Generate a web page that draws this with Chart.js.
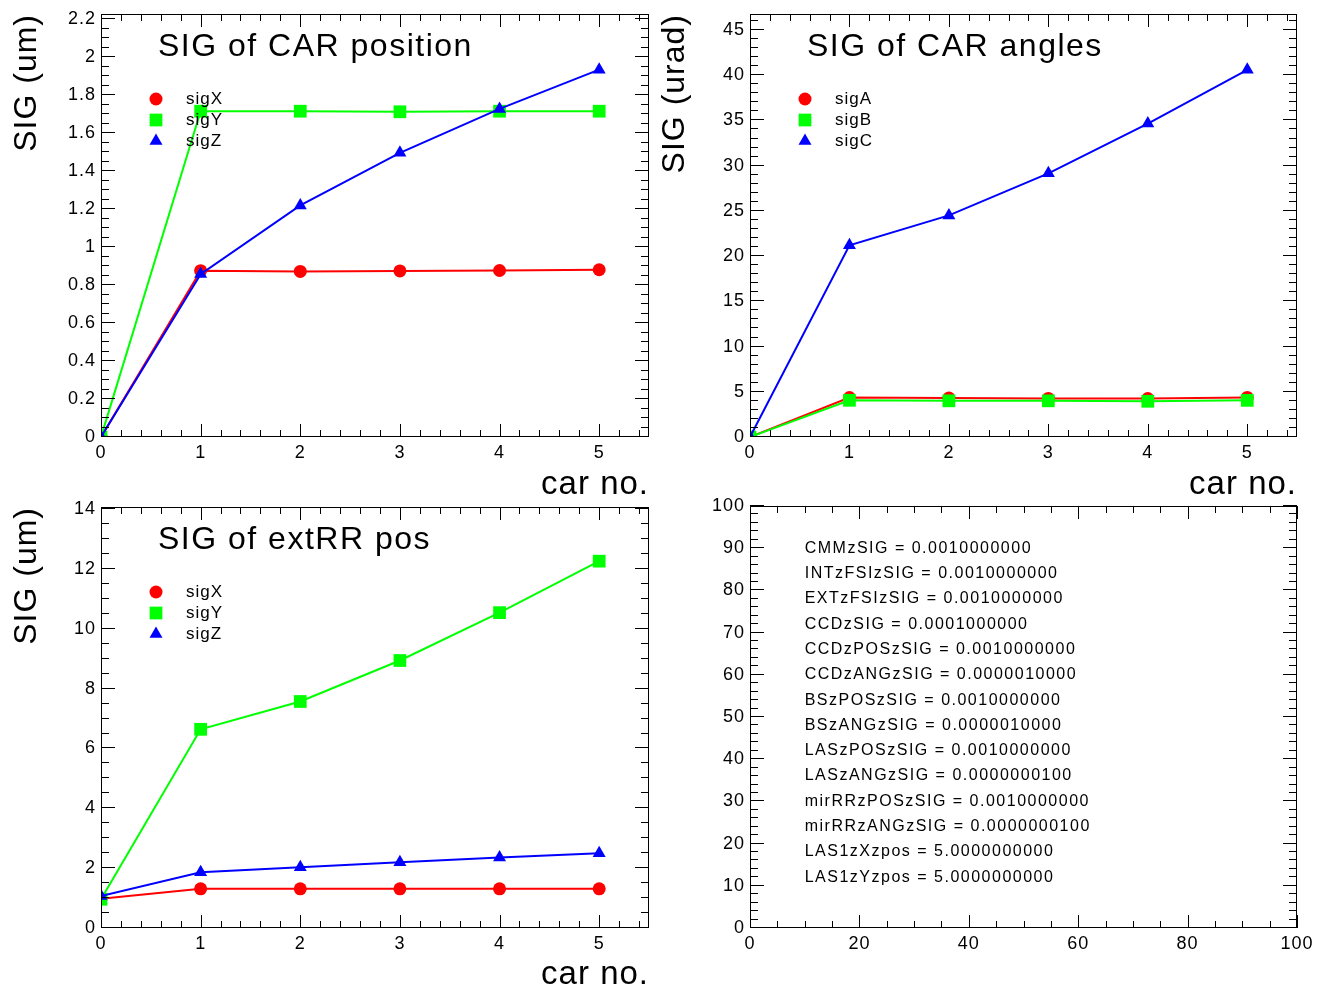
<!DOCTYPE html>
<html>
<head>
<meta charset="utf-8">
<script src="https://cdn.jsdelivr.net/npm/chart.js@4.4.1/dist/chart.umd.min.js"></script>
<style>
  body { margin: 0; background: #fff; }
  #page { position: relative; width: 1323px; height: 990px; background: #fff; }
  canvas { position: absolute; }
</style>
</head>
<body>
<div id="page">
  <canvas id="padPos" width="661" height="495" style="left:0px;top:0px"></canvas>
  <canvas id="padAng" width="662" height="495" style="left:661px;top:0px"></canvas>
  <canvas id="padExt" width="661" height="495" style="left:0px;top:495px"></canvas>
  <canvas id="padPar" width="662" height="495" style="left:661px;top:495px"></canvas>
</div>
<script>
// x values shared by the three graphs
const carNo = [0, 1, 2, 3, 4, 5];

// SIG of CAR position (um)
const posSigX = [0, 0.876, 0.872, 0.875, 0.877, 0.881];
const posSigY = [0, 1.716, 1.716, 1.713, 1.716, 1.716];
const posSigZ = [0, 0.858, 1.22, 1.497, 1.728, 1.935];

// SIG of CAR angles (urad)
const angSigA = [0, 4.36, 4.3, 4.27, 4.25, 4.38];
const angSigB = [0, 4.06, 4.0, 4.0, 3.95, 4.05];
const angSigC = [0, 21.2, 24.5, 29.15, 34.65, 40.6];

// SIG of extRR pos (um)
const extSigX = [0.98, 1.31, 1.31, 1.31, 1.31, 1.31];
const extSigY = [0.96, 6.64, 7.57, 8.94, 10.54, 12.26];
const extSigZ = [1.07, 1.86, 2.03, 2.2, 2.36, 2.5];

// parameter list shown in the last pad
const parNames = ['CMMzSIG', 'INTzFSIzSIG', 'EXTzFSIzSIG', 'CCDzSIG', 'CCDzPOSzSIG', 'CCDzANGzSIG',
  'BSzPOSzSIG', 'BSzANGzSIG', 'LASzPOSzSIG', 'LASzANGzSIG', 'mirRRzPOSzSIG', 'mirRRzANGzSIG',
  'LAS1zXzpos', 'LAS1zYzpos'];
const parValues = ['0.0010000000', '0.0010000000', '0.0010000000', '0.0001000000', '0.0010000000',
  '0.0000010000', '0.0010000000', '0.0000010000', '0.0010000000', '0.0000000100', '0.0010000000',
  '0.0000000100', '5.0000000000', '5.0000000000'];

const FONT = '"Liberation Sans", Arial, sans-serif';

function eachTick(scale, minor, every, fn) {
  const n = Math.floor((scale.max - scale.min) / minor + 1e-6);
  for (let i = 0; i <= n; i++) {
    fn(scale.getPixelForValue(scale.min + i * minor), i % every === 0);
  }
}

// ROOT style frame with ticks pointing inside on all four sides
const rootFrame = {
  id: 'rootFrame',
  beforeDraw(chart) {
    chart.ctx.letterSpacing = '1px';
  },
  afterDraw(chart, args, opts) {
    const { ctx, chartArea: a, scales: { x, y } } = chart;
    ctx.save();
    ctx.strokeStyle = '#000';
    ctx.lineWidth = 1;
    ctx.beginPath();
    eachTick(x, opts.xMinor, opts.xEvery, (px, major) => {
      const len = major ? 13 : 7;
      const xx = Math.round(px) + 0.5;
      ctx.moveTo(xx, a.bottom); ctx.lineTo(xx, a.bottom - len);
      ctx.moveTo(xx, a.top); ctx.lineTo(xx, a.top + len);
    });
    eachTick(y, opts.yMinor, opts.yEvery, (py, major) => {
      const len = major ? 14 : 8;
      const yy = Math.round(py) - 0.5;
      ctx.moveTo(a.left, yy); ctx.lineTo(a.left + len, yy);
      ctx.moveTo(a.right, yy); ctx.lineTo(a.right - len, yy);
    });
    ctx.stroke();
    ctx.strokeRect(Math.round(a.left) + 0.5, Math.round(a.top) + 0.5,
      Math.round(a.right - a.left) - 1, Math.round(a.bottom - a.top) - 1);
    ctx.restore();
  }
};

function drawMarker(ctx, style, r, cx, cy, color) {
  ctx.fillStyle = color;
  ctx.beginPath();
  if (style === 'circle') {
    ctx.arc(cx, cy, r, 0, Math.PI * 2);
  } else if (style === 'rect') {
    const s = r * Math.SQRT1_2;
    ctx.rect(cx - s, cy - s, 2 * s, 2 * s);
  } else {
    for (let k = 0; k < 3; k++) {
      const ang = k * Math.PI * 2 / 3;
      ctx.lineTo(cx + Math.sin(ang) * r, cy - Math.cos(ang) * r);
    }
    ctx.closePath();
  }
  ctx.fill();
}

// pad title + marker legend inside the frame
const rootLabels = {
  id: 'rootLabels',
  afterDraw(chart, args, opts) {
    const { ctx, chartArea: a } = chart;
    ctx.save();
    if (opts.title) {
      ctx.letterSpacing = '1.5px';
      ctx.fillStyle = '#000';
      ctx.font = '32px ' + FONT;
      ctx.textBaseline = 'alphabetic';
      ctx.textAlign = 'left';
      ctx.fillText(opts.title, a.left + 57, a.top + 42);
    }
    if (opts.legend) {
      ctx.letterSpacing = '1px';
      ctx.font = '17px ' + FONT;
      ctx.textBaseline = 'middle';
      chart.data.datasets.forEach((ds, i) => {
        const yy = a.top + 85 + i * 21;
        drawMarker(ctx, ds.pointStyle, ds.pointRadius, a.left + 55, yy, ds.backgroundColor);
        ctx.fillStyle = '#000';
        ctx.fillText(ds.label, a.left + 85, yy);
      });
    }
    if (opts.params) {
      const { x, y } = chart.scales;
      ctx.letterSpacing = '1.5px';
      ctx.font = '16px ' + FONT;
      ctx.fillStyle = '#000';
      ctx.textBaseline = 'middle';
      parNames.forEach((name, i) => {
        ctx.fillText(name + ' = ' + parValues[i], x.getPixelForValue(10), y.getPixelForValue(90 - 6 * i));
      });
    }
    ctx.restore();
  }
};

function lineSet(label, ys, color, style, radius, order) {
  return {
    label: label,
    data: carNo.map((c, i) => ({ x: c, y: ys[i] })),
    borderColor: color,
    backgroundColor: color,
    borderWidth: 2,
    pointStyle: style,
    pointRadius: radius,
    pointHoverRadius: radius,
    pointBorderWidth: 0,
    tension: 0,
    order: order
  };
}

const fmt = v => String(Math.round(v * 100) / 100);

function makeScales(o) {
  return {
    x: {
      type: 'linear', min: 0, max: o.xMax,
      afterFit: s => { s.height = o.xH; s.paddingLeft = 0; s.paddingRight = 0; },
      grid: { display: false, drawTicks: false },
      border: { display: false },
      ticks: { stepSize: o.xStep, includeBounds: false, padding: 5, color: '#000', autoSkip: false,
        maxRotation: 0, font: { family: FONT, size: 18 }, callback: fmt },
      title: { display: !!o.xTitle, text: o.xTitle || '', align: 'end', color: '#000',
        font: { family: FONT, size: 33, lineHeight: 1 }, padding: { top: 0, bottom: o.xTitlePad || 0 } }
    },
    y: {
      type: 'linear', min: 0, max: o.yMax,
      afterFit: s => { s.width = o.yW; s.paddingTop = 0; s.paddingBottom = 0; },
      grid: { display: false, drawTicks: false },
      border: { display: false },
      ticks: { stepSize: o.yStep, includeBounds: false, padding: 5, color: '#000', autoSkip: false,
        font: { family: FONT, size: 18 }, callback: fmt },
      title: { display: !!o.yTitle, text: o.yTitle || '', align: 'end', color: '#000',
        font: { family: FONT, size: 32, lineHeight: 1 }, padding: { top: o.yTitlePad || 0, bottom: 0 } }
    }
  };
}

function makeChart(id, datasets, pad, scaleOpts, frameOpts, labelOpts) {
  return new Chart(document.getElementById(id), {
    type: 'line',
    data: { datasets: datasets },
    options: {
      responsive: false,
      animation: false,
      events: [],
      layout: { padding: pad },
      scales: makeScales(scaleOpts),
      plugins: {
        legend: { display: false },
        tooltip: { enabled: false },
        rootFrame: frameOpts,
        rootLabels: labelOpts
      }
    },
    plugins: [rootFrame, rootLabels]
  });
}

makeChart('padPos', [
  lineSet('sigX', posSigX, '#ff0000', 'circle', 6.5, 2),
  lineSet('sigY', posSigY, '#00ff00', 'rect', 9, 1),
  lineSet('sigZ', posSigZ, '#0000ff', 'triangle', 7.5, 0)
], { left: 0, top: 14, right: 12, bottom: 0 },
  { xMax: 5.5, xStep: 1, yMax: 2.228, yStep: 0.2, xH: 58, yW: 101,
    xTitle: 'car no.', xTitlePad: -6.5, yTitle: 'SIG (um)', yTitlePad: 11 },
  { xMinor: 0.2, xEvery: 5, yMinor: 0.05, yEvery: 4 },
  { title: 'SIG of CAR position', legend: true });

makeChart('padAng', [
  lineSet('sigA', angSigA, '#ff0000', 'circle', 6.5, 2),
  lineSet('sigB', angSigB, '#00ff00', 'rect', 9, 1),
  lineSet('sigC', angSigC, '#0000ff', 'triangle', 7.5, 0)
], { left: 0, top: 14, right: 26, bottom: 0 },
  { xMax: 5.5, xStep: 1, yMax: 46.77, yStep: 5, xH: 58, yW: 89,
    xTitle: 'car no.', xTitlePad: -6.5, yTitle: 'SIG (urad)', yTitlePad: -1.5 },
  { xMinor: 0.2, xEvery: 5, yMinor: 1, yEvery: 5 },
  { title: 'SIG of CAR angles', legend: true });

makeChart('padExt', [
  lineSet('sigX', extSigX, '#ff0000', 'circle', 6.5, 2),
  lineSet('sigY', extSigY, '#00ff00', 'rect', 9, 1),
  lineSet('sigZ', extSigZ, '#0000ff', 'triangle', 7.5, 0)
], { left: 0, top: 12, right: 12, bottom: 0 },
  { xMax: 5.5, xStep: 1, yMax: 14.07, yStep: 2, xH: 62, yW: 101,
    xTitle: 'car no.', xTitlePad: -1, yTitle: 'SIG (um)', yTitlePad: 11 },
  { xMinor: 0.2, xEvery: 5, yMinor: 0.5, yEvery: 4 },
  { title: 'SIG of extRR pos', legend: true });

makeChart('padPar', [], { left: 0, top: 11, right: 26, bottom: 0 },
  { xMax: 100, xStep: 20, yMax: 100, yStep: 10, xH: 62, yW: 89 },
  { xMinor: 5, xEvery: 4, yMinor: 2, yEvery: 5 },
  { params: true });
</script>
</body>
</html>
